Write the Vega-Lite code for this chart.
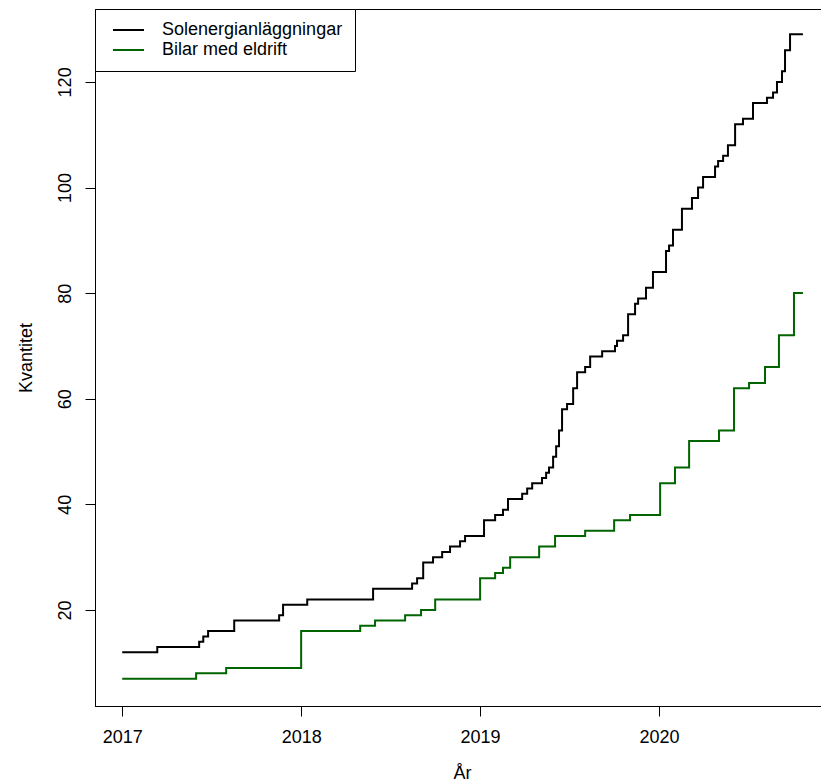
{
  "$schema": "https://vega.github.io/schema/vega-lite/v6.json",
  "autosize": {"type": "none"},
  "padding": {"left": 95, "top": 9, "right": 0, "bottom": 77},
  "width": 726,
  "height": 697,
  "background": "white",
  "config": {
    "view": {"stroke": "black", "strokeWidth": 1},
    "font": "Liberation Sans",
    "axis": {
      "grid": false,
      "domainColor": "black",
      "tickColor": "black",
      "tickSize": 10,
      "labelFont": "Liberation Sans",
      "labelFontSize": 18,
      "labelColor": "black",
      "titleFont": "Liberation Sans",
      "titleFontSize": 18,
      "titleFontWeight": "normal",
      "titleColor": "black"
    }
  },
  "data": {
    "values": [
      {"serie": "Solenergianläggningar", "t": 2017.000, "v": 12},
      {"serie": "Solenergianläggningar", "t": 2017.196, "v": 13},
      {"serie": "Solenergianläggningar", "t": 2017.430, "v": 14},
      {"serie": "Solenergianläggningar", "t": 2017.453, "v": 15},
      {"serie": "Solenergianläggningar", "t": 2017.480, "v": 16},
      {"serie": "Solenergianläggningar", "t": 2017.626, "v": 18},
      {"serie": "Solenergianläggningar", "t": 2017.877, "v": 19},
      {"serie": "Solenergianläggningar", "t": 2017.899, "v": 21},
      {"serie": "Solenergianläggningar", "t": 2018.034, "v": 22},
      {"serie": "Solenergianläggningar", "t": 2018.402, "v": 24},
      {"serie": "Solenergianläggningar", "t": 2018.620, "v": 25},
      {"serie": "Solenergianläggningar", "t": 2018.648, "v": 26},
      {"serie": "Solenergianläggningar", "t": 2018.682, "v": 29},
      {"serie": "Solenergianläggningar", "t": 2018.737, "v": 30},
      {"serie": "Solenergianläggningar", "t": 2018.788, "v": 31},
      {"serie": "Solenergianläggningar", "t": 2018.832, "v": 32},
      {"serie": "Solenergianläggningar", "t": 2018.888, "v": 33},
      {"serie": "Solenergianläggningar", "t": 2018.916, "v": 34},
      {"serie": "Solenergianläggningar", "t": 2019.022, "v": 37},
      {"serie": "Solenergianläggningar", "t": 2019.084, "v": 38},
      {"serie": "Solenergianläggningar", "t": 2019.128, "v": 39},
      {"serie": "Solenergianläggningar", "t": 2019.156, "v": 41},
      {"serie": "Solenergianläggningar", "t": 2019.235, "v": 42},
      {"serie": "Solenergianläggningar", "t": 2019.263, "v": 43},
      {"serie": "Solenergianläggningar", "t": 2019.291, "v": 44},
      {"serie": "Solenergianläggningar", "t": 2019.346, "v": 45},
      {"serie": "Solenergianläggningar", "t": 2019.369, "v": 46},
      {"serie": "Solenergianläggningar", "t": 2019.385, "v": 47},
      {"serie": "Solenergianläggningar", "t": 2019.408, "v": 49},
      {"serie": "Solenergianläggningar", "t": 2019.425, "v": 51},
      {"serie": "Solenergianläggningar", "t": 2019.441, "v": 54},
      {"serie": "Solenergianläggningar", "t": 2019.458, "v": 58},
      {"serie": "Solenergianläggningar", "t": 2019.486, "v": 59},
      {"serie": "Solenergianläggningar", "t": 2019.520, "v": 62},
      {"serie": "Solenergianläggningar", "t": 2019.542, "v": 65},
      {"serie": "Solenergianläggningar", "t": 2019.587, "v": 66},
      {"serie": "Solenergianläggningar", "t": 2019.615, "v": 68},
      {"serie": "Solenergianläggningar", "t": 2019.682, "v": 69},
      {"serie": "Solenergianläggningar", "t": 2019.754, "v": 70},
      {"serie": "Solenergianläggningar", "t": 2019.765, "v": 71},
      {"serie": "Solenergianläggningar", "t": 2019.799, "v": 72},
      {"serie": "Solenergianläggningar", "t": 2019.827, "v": 76},
      {"serie": "Solenergianläggningar", "t": 2019.866, "v": 78},
      {"serie": "Solenergianläggningar", "t": 2019.883, "v": 79},
      {"serie": "Solenergianläggningar", "t": 2019.927, "v": 81},
      {"serie": "Solenergianläggningar", "t": 2019.966, "v": 84},
      {"serie": "Solenergianläggningar", "t": 2020.039, "v": 88},
      {"serie": "Solenergianläggningar", "t": 2020.056, "v": 89},
      {"serie": "Solenergianläggningar", "t": 2020.078, "v": 92},
      {"serie": "Solenergianläggningar", "t": 2020.128, "v": 96},
      {"serie": "Solenergianläggningar", "t": 2020.184, "v": 98},
      {"serie": "Solenergianläggningar", "t": 2020.218, "v": 100},
      {"serie": "Solenergianläggningar", "t": 2020.246, "v": 102},
      {"serie": "Solenergianläggningar", "t": 2020.313, "v": 104},
      {"serie": "Solenergianläggningar", "t": 2020.330, "v": 105},
      {"serie": "Solenergianläggningar", "t": 2020.358, "v": 106},
      {"serie": "Solenergianläggningar", "t": 2020.385, "v": 108},
      {"serie": "Solenergianläggningar", "t": 2020.425, "v": 112},
      {"serie": "Solenergianläggningar", "t": 2020.469, "v": 113},
      {"serie": "Solenergianläggningar", "t": 2020.525, "v": 116},
      {"serie": "Solenergianläggningar", "t": 2020.603, "v": 117},
      {"serie": "Solenergianläggningar", "t": 2020.637, "v": 118},
      {"serie": "Solenergianläggningar", "t": 2020.659, "v": 120},
      {"serie": "Solenergianläggningar", "t": 2020.687, "v": 122},
      {"serie": "Solenergianläggningar", "t": 2020.704, "v": 126},
      {"serie": "Solenergianläggningar", "t": 2020.732, "v": 129},
      {"serie": "Solenergianläggningar", "t": 2020.804, "v": 129},
      {"serie": "Bilar med eldrift", "t": 2017.000, "v": 7},
      {"serie": "Bilar med eldrift", "t": 2017.413, "v": 8},
      {"serie": "Bilar med eldrift", "t": 2017.581, "v": 9},
      {"serie": "Bilar med eldrift", "t": 2018.000, "v": 16},
      {"serie": "Bilar med eldrift", "t": 2018.330, "v": 17},
      {"serie": "Bilar med eldrift", "t": 2018.413, "v": 18},
      {"serie": "Bilar med eldrift", "t": 2018.581, "v": 19},
      {"serie": "Bilar med eldrift", "t": 2018.670, "v": 20},
      {"serie": "Bilar med eldrift", "t": 2018.749, "v": 22},
      {"serie": "Bilar med eldrift", "t": 2019.000, "v": 26},
      {"serie": "Bilar med eldrift", "t": 2019.084, "v": 27},
      {"serie": "Bilar med eldrift", "t": 2019.128, "v": 28},
      {"serie": "Bilar med eldrift", "t": 2019.168, "v": 30},
      {"serie": "Bilar med eldrift", "t": 2019.330, "v": 32},
      {"serie": "Bilar med eldrift", "t": 2019.419, "v": 34},
      {"serie": "Bilar med eldrift", "t": 2019.587, "v": 35},
      {"serie": "Bilar med eldrift", "t": 2019.749, "v": 37},
      {"serie": "Bilar med eldrift", "t": 2019.838, "v": 38},
      {"serie": "Bilar med eldrift", "t": 2020.006, "v": 44},
      {"serie": "Bilar med eldrift", "t": 2020.089, "v": 47},
      {"serie": "Bilar med eldrift", "t": 2020.168, "v": 52},
      {"serie": "Bilar med eldrift", "t": 2020.335, "v": 54},
      {"serie": "Bilar med eldrift", "t": 2020.419, "v": 62},
      {"serie": "Bilar med eldrift", "t": 2020.503, "v": 63},
      {"serie": "Bilar med eldrift", "t": 2020.592, "v": 66},
      {"serie": "Bilar med eldrift", "t": 2020.670, "v": 72},
      {"serie": "Bilar med eldrift", "t": 2020.754, "v": 80},
      {"serie": "Bilar med eldrift", "t": 2020.804, "v": 80}
    ]
  },
  "mark": {"type": "line", "interpolate": "step-after", "strokeWidth": 2, "clip": true},
  "encoding": {
    "x": {
      "field": "t",
      "type": "quantitative",
      "scale": {"domain": [2016.848, 2020.905], "nice": false, "zero": false},
      "axis": {
        "values": [2017, 2018, 2019, 2020],
        "format": "d",
        "title": "År",
        "labelPadding": 12,
        "titleX": 367,
        "titleY": 72,
        "titleBaseline": "alphabetic",
        "titleAlign": "center"
      }
    },
    "y": {
      "field": "v",
      "type": "quantitative",
      "scale": {"domain": [1.82, 133.8], "nice": false, "zero": false},
      "axis": {
        "values": [20, 40, 60, 80, 100, 120],
        "title": "Kvantitet",
        "labelAngle": -90,
        "labelAlign": "center",
        "labelBaseline": "alphabetic",
        "labelPadding": 15,
        "titleAngle": -90,
        "titleX": -64,
        "titleY": 348.5,
        "titleAlign": "center",
        "titleBaseline": "alphabetic"
      }
    },
    "color": {
      "field": "serie",
      "type": "nominal",
      "scale": {"domain": ["Solenergianläggningar", "Bilar med eldrift"], "range": ["black", "#006400"]},
      "legend": {
        "title": null,
        "orient": "none",
        "legendX": 0,
        "legendY": 0,
        "strokeColor": "black",
        "fillColor": "white",
        "padding": 12,
        "symbolType": "stroke",
        "symbolSize": 961,
        "symbolStrokeWidth": 2,
        "symbolOffset": 5,
        "labelOffset": 17,
        "labelLimit": 0,
        "labelFont": "Liberation Sans",
        "labelFontSize": 18,
        "labelColor": "black",
        "clipHeight": 18,
        "rowPadding": 2
      }
    }
  }
}
